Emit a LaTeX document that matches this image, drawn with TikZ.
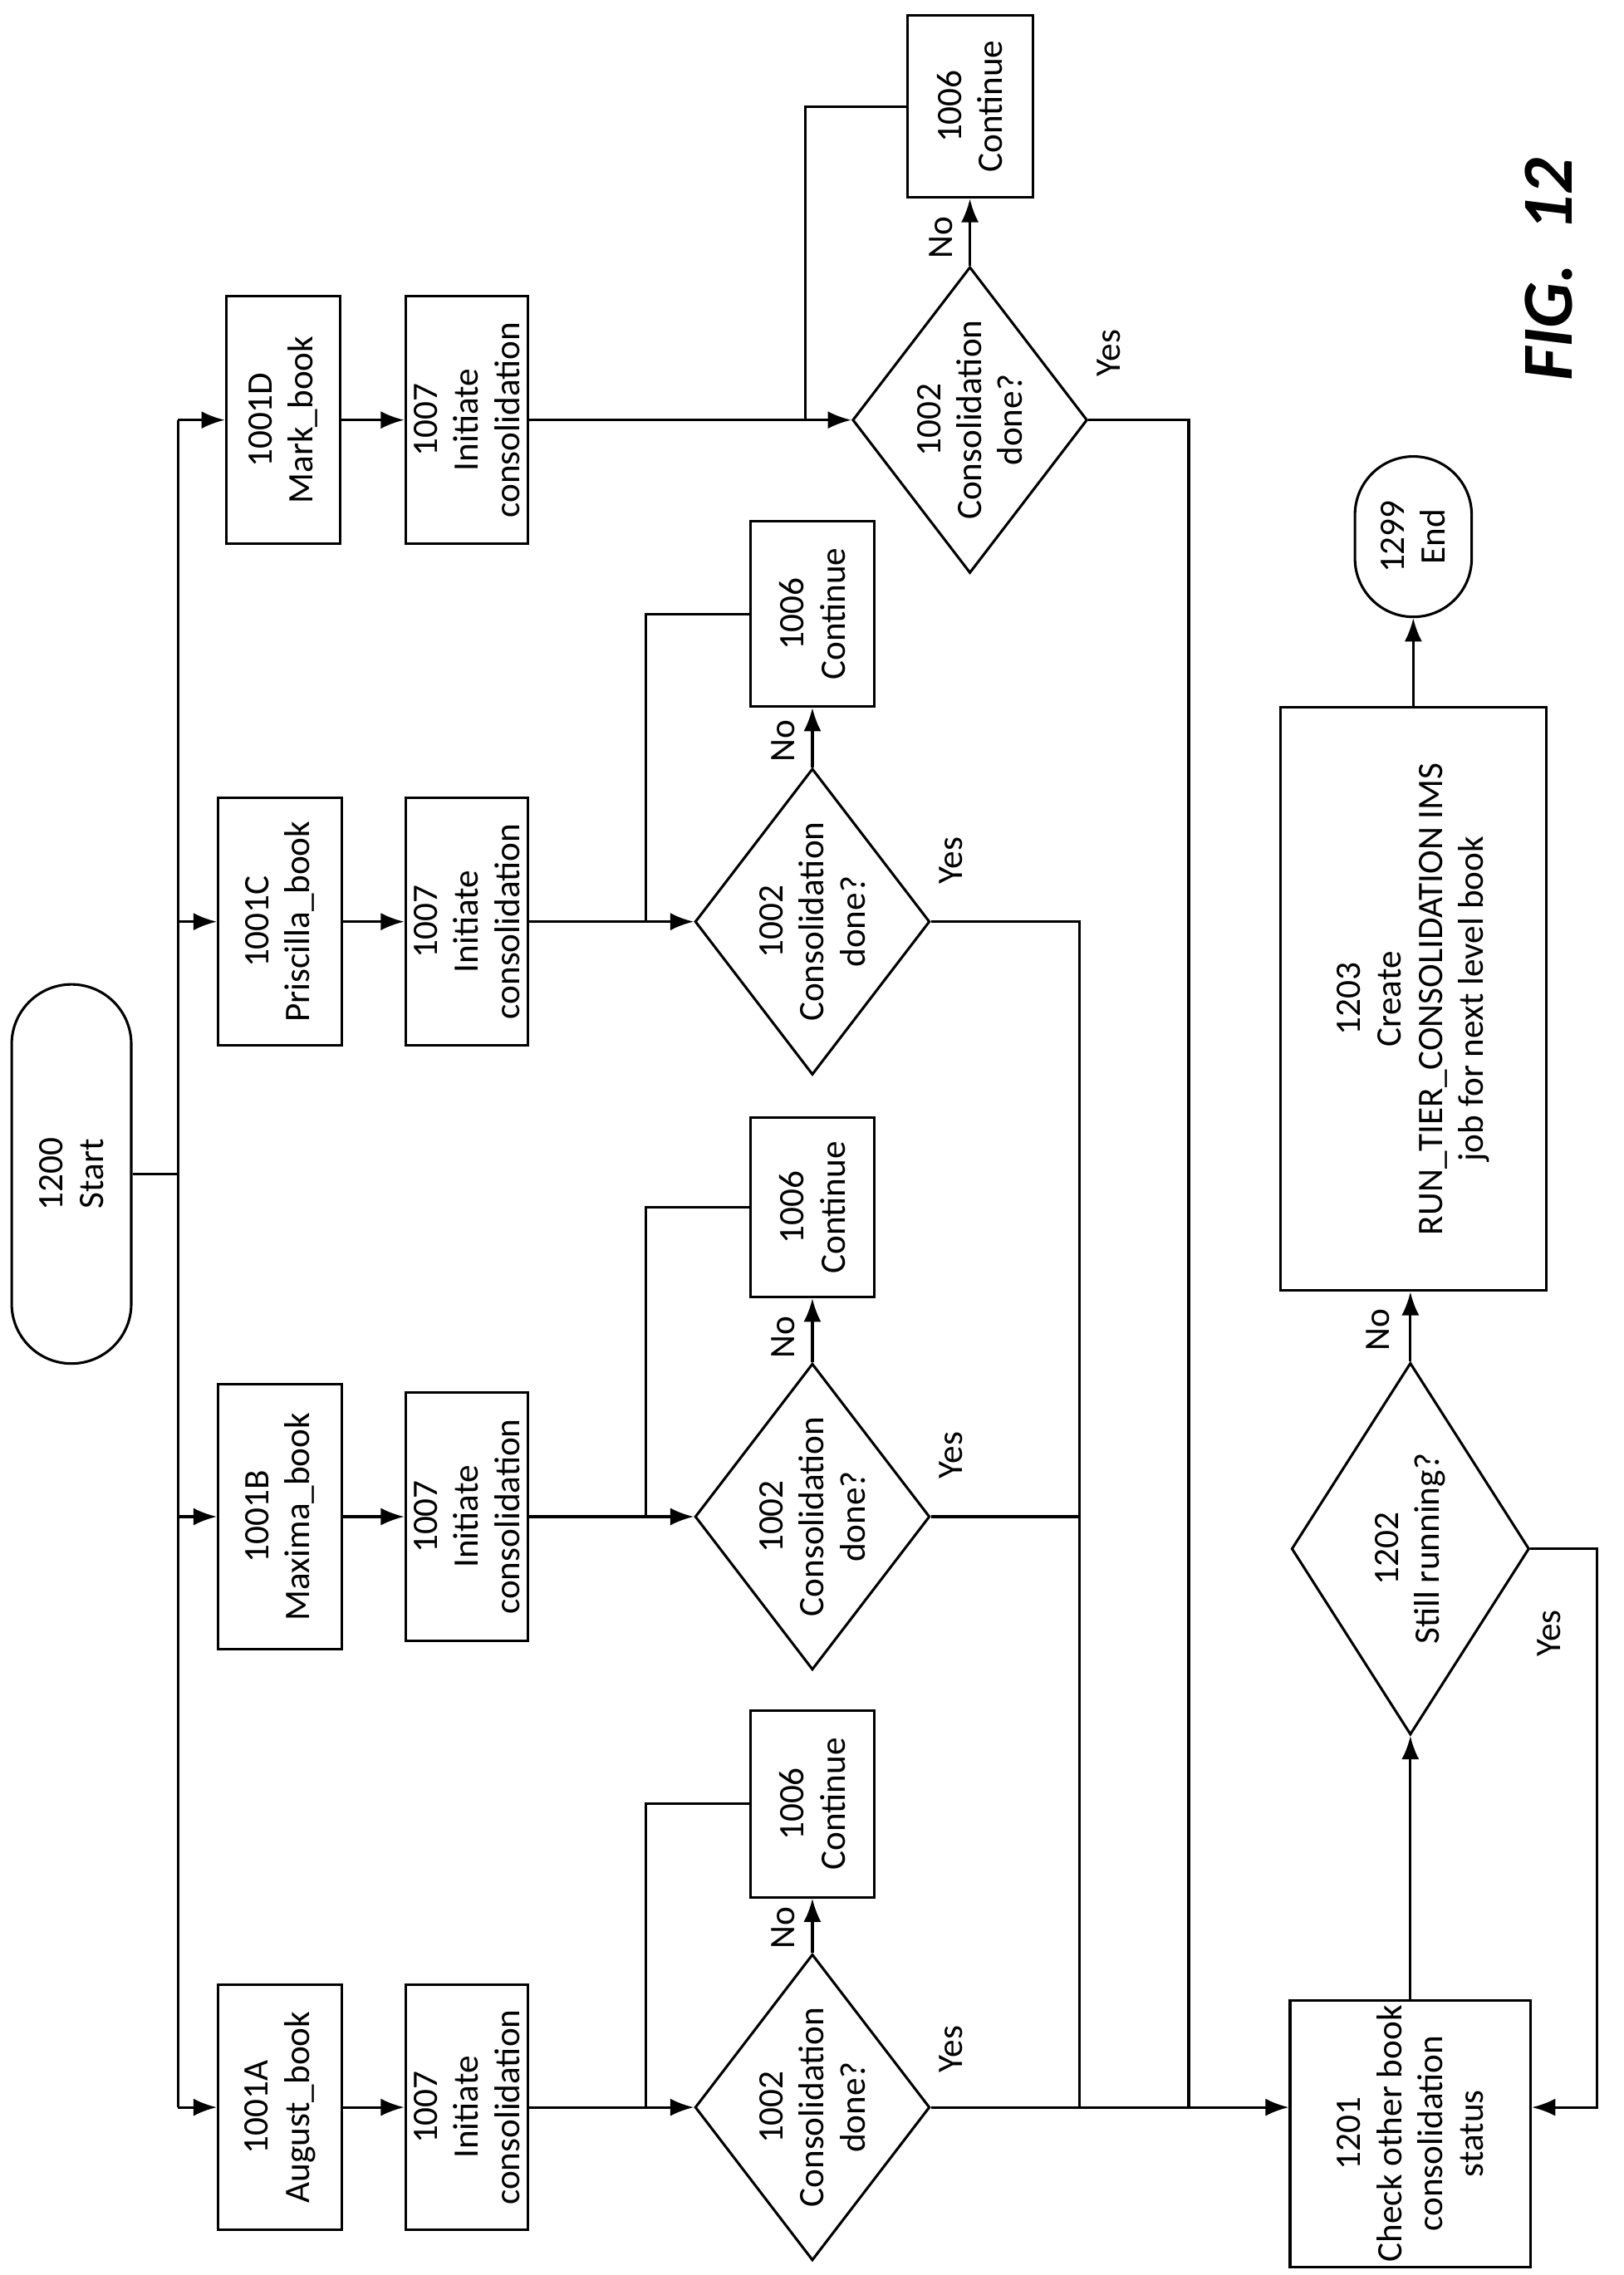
\documentclass[tikz,border=0pt]{standalone}
\usepackage{fontspec}
\setmainfont{Carlito}
\usetikzlibrary{shapes.geometric,shapes.misc,arrows.meta}
\begin{document}
\begin{tikzpicture}[x=1mm,y=-1mm,
  every node/.style={font=\fontsize{70}{80}\selectfont, line width=5pt, align=center},
  box/.style={draw, rectangle, rotate=90, inner sep=0pt},
  term/.style={draw, rounded rectangle, rotate=90, inner sep=0pt},
  dia/.style={draw, diamond, inner sep=0pt, minimum width=161mm, minimum height=210mm, shape aspect=0.77},
  txt/.style={rotate=90, inner sep=0pt},
  lbl/.style={rotate=90, inner sep=0pt},
  line/.style={line width=5pt},
  arr/.style={line width=5pt, -{Latex[length=16mm,width=12mm]}}]
\useasboundingbox (0,0) rectangle (1113,1560);
% start
\node[term, minimum width=260mm, minimum height=82mm] (start) at (49,805) {1200\\Start};
% first row
\node[box, minimum width=168mm, minimum height=85mm] (bA) at (192,1445) {1001A\\August\_book};
\node[box, minimum width=182mm, minimum height=85mm] (bB) at (192,1040) {1001B\\Maxima\_book};
\node[box, minimum width=170mm, minimum height=85mm] (bC) at (192,632) {1001C\\Priscilla\_book};
\node[box, minimum width=170mm, minimum height=78mm] (bD) at (194,288) {1001D\\Mark\_book};
% second row
\node[box, minimum width=168mm, minimum height=84mm] (iA) at (320,1445) {1007\\Initiate\\consolidation};
\node[box, minimum width=170mm, minimum height=84mm] (iB) at (320,1040) {1007\\Initiate\\consolidation};
\node[box, minimum width=170mm, minimum height=84mm] (iC) at (320,632) {1007\\Initiate\\consolidation};
\node[box, minimum width=170mm, minimum height=84mm] (iD) at (320,288) {1007\\Initiate\\consolidation};
% diamonds
\node[dia] (dA) at (557,1445) {};
\node[dia] (dB) at (557,1040) {};
\node[dia] (dC) at (557,632) {};
\node[dia] (dD) at (665,288) {};
\node[txt] (tA) at (dA) {1002\\Consolidation\\done?};
\node[txt] (tB) at (dB) {1002\\Consolidation\\done?};
\node[txt] (tC) at (dC) {1002\\Consolidation\\done?};
\node[txt] (tD) at (dD) {1002\\Consolidation\\done?};
% continue boxes
\node[box, minimum width=128mm, minimum height=85mm] (kA) at (557,1237) {1006\\Continue};
\node[box, minimum width=123mm, minimum height=85mm] (kB) at (557,828) {1006\\Continue};
\node[box, minimum width=127mm, minimum height=85mm] (kC) at (557,421) {1006\\Continue};
\node[box, minimum width=125mm, minimum height=86mm] (kD) at (665,73) {1006\\Continue};
% right column
\node[box, minimum width=183mm, minimum height=165mm] (cR) at (967,1463) {1201\\Check other book\\consolidation\\status};
\node[dia, minimum width=163mm, minimum height=255mm, shape aspect=0.64] (dR) at (967,1062) {};
\node[txt] (tR) at (dR) {1202\\Still running?};
\node[box, minimum width=400mm, minimum height=182mm] (cT) at (969,685) {1203\\Create\\RUN\_TIER\_CONSOLIDATION IMS\\job for next level book};
\node[term, minimum width=110mm, minimum height=80mm] (end) at (969,368) {1299\\End};
\node[lbl, font=\fontsize{140}{160}\selectfont\bfseries\itshape] (fig) at (1062,185) {FIG.\ \ 12};
% labels
\node[lbl] (nA) at (537,1322) {No};
\node[lbl] (nB) at (537,917) {No};
\node[lbl] (nC) at (537,508) {No};
\node[lbl] (nD) at (645,163) {No};
\node[lbl] (yA) at (652,1405) {Yes};
\node[lbl] (yB) at (652,998) {Yes};
\node[lbl] (yC) at (652,590) {Yes};
\node[lbl] (yD) at (760,242) {Yes};
\node[lbl] (nR) at (945,912) {No};
\node[lbl] (yR) at (1062,1120) {Yes};
% trunk
\coordinate (t0) at (122,805);
\coordinate (tTop) at (122,288);
\coordinate (tBot) at (122,1445);
\draw[line] (start.south) -- (t0);
\draw[line] (tTop) -- (tBot);
\draw[arr] (tBot) -- (tBot -| bA.north);
\draw[arr] (122,1040) coordinate (tb) -- (tb -| bB.north);
\draw[arr] (122,632) coordinate (tc) -- (tc -| bC.north);
\draw[arr] (tTop) -- (tTop -| bD.north);
\foreach \s in {A,B,C,D}{
  \draw[arr] (b\s.south) -- (i\s.north);
  \draw[arr] (i\s.south) -- (d\s.west);
  \draw[arr] (d\s.north) -- (k\s.west);
}
\coordinate (brA) at (443,1445);
\coordinate (brB) at (443,1040);
\coordinate (brC) at (443,632);
\coordinate (brD) at (552,288);
\foreach \s in {A,B,C,D}{ \draw[line] (br\s) |- (k\s.north); }
% yes merges
\coordinate (mC) at (740,1445);
\coordinate (mD) at (815,1445);
\draw[line] (dB.east) -| (mC);
\draw[line] (dC.east) -| (mC);
\draw[line] (dD.east) -| (mD);
\draw[arr] (dA.east) -- (dA.east -| cR.north);
% right column arrows
\draw[arr] (cR.east) -- (cR.east |- dR.south);
\draw[arr] (dR.north) -- (dR.north |- cT.west);
\coordinate (y1) at (1095,1445);
\draw[arr] (dR.east) -| (y1) -- (y1 -| cR.south);
\draw[arr] (cT.east) -- (cT.east |- end.west);
\end{tikzpicture}
\end{document}
